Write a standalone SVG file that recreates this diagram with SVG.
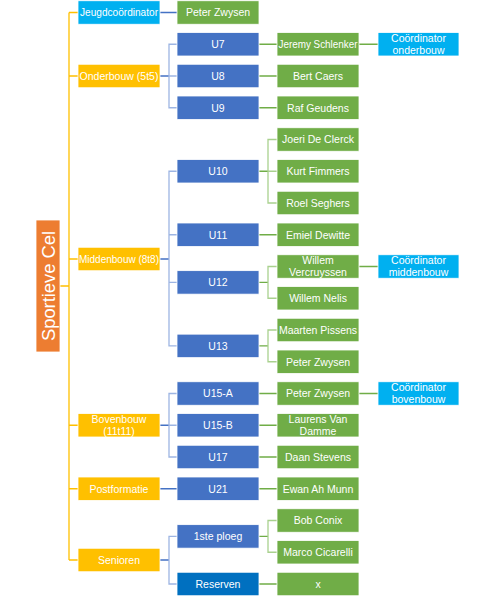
<svg xmlns="http://www.w3.org/2000/svg" width="494" height="597" viewBox="0 0 494 597">
<style>
text{font-family:"Liberation Sans",Arial,sans-serif;font-size:10.5px;fill:#fff;text-anchor:middle}
.big{font-size:18px}
rect{stroke:#fff;stroke-width:0.8}
.cel{fill:#ED7D31}
.or{fill:#FFC000}
.bl{fill:#4472C4}
.db{fill:#0070C0}
.gr{fill:#70AD47}
.cy{fill:#00B0F0}
.c path{fill:none;stroke-width:1.3}
.co{stroke:#FFC000}
.cb{stroke:#4472C4}
.cbl{stroke:#9DB5E3}
.cg{stroke:#70AD47}
.cgl{stroke:#A9D18E}
</style>
<g id="connectors" class="c">
<path class="co" d="M60,286H69M69,12.5V560M69,12.5H78M69,76H78M69,259H78M69,425.25H78M69,488.75H78M69,560H78"/>
<path class="cb" d="M160,12.5H177M160,76H169M160,259H169M160,425.25H169M160,488.75H177M160,560H169"/>
<path class="cbl" d="M177,44.25H169V107.75H177M169,76H177M177,171.25H169V345.9H177M169,234.75H177M169,282.4H177M177,393.5H169V457H177M169,425.25H177M177,536.4H169V584H177"/>
<path class="cg" d="M259,44.25H277M259,76H277M259,107.75H277M259,171.25H268M259,234.75H277M259,282.4H268M259,345.9H268M259,393.5H277M259,425.25H277M259,457H277M259,488.75H277M259,536.4H268M259,584H277M359,44.25H378M359,266.5H378M359,393.5H378"/>
<path class="cgl" d="M277,139.5H268V203H277M268,171.25H277M277,266.5H268V298.25H277M277,330H268V361.75H277M277,520.5H268V552.25H277"/>
</g>
<g id="sportieve-cel"><rect class="cel" x="36" y="220" width="24" height="132"/><text class="big" transform="translate(54.5,286) rotate(-90)" textLength="110" lengthAdjust="spacingAndGlyphs">Sportieve Cel</text></g>
<g id="jeugdcoordinator"><rect class="cy" x="78" y="0.75" width="82" height="23.5"/><text x="119" y="16.3" textLength="78" lengthAdjust="spacingAndGlyphs">Jeugdcoördinator</text></g>
<g id="peter-zwysen-1"><rect class="gr" x="177" y="0.75" width="82" height="23.5"/><text x="218" y="16.3">Peter Zwysen</text></g>
<g id="onderbouw"><rect class="or" x="78" y="64.25" width="82" height="23.5"/><text x="119" y="79.8">Onderbouw (5t5)</text></g>
<g id="u7"><rect class="bl" x="177" y="32.5" width="82" height="23.5"/><text x="218" y="48">U7</text></g>
<g id="u8"><rect class="bl" x="177" y="64.25" width="82" height="23.5"/><text x="218" y="79.8">U8</text></g>
<g id="u9"><rect class="bl" x="177" y="96" width="82" height="23.5"/><text x="218" y="111.5">U9</text></g>
<g id="jeremy"><rect class="gr" x="277" y="32.5" width="82" height="23.5"/><text x="318" y="48" textLength="79" lengthAdjust="spacingAndGlyphs">Jeremy Schlenker</text></g>
<g id="bert"><rect class="gr" x="277" y="64.25" width="82" height="23.5"/><text x="318" y="79.8">Bert Caers</text></g>
<g id="raf"><rect class="gr" x="277" y="96" width="82" height="23.5"/><text x="318" y="111.5">Raf Geudens</text></g>
<g id="coord-onderbouw"><rect class="cy" x="378" y="32.5" width="81" height="23.5"/><text x="418.5" y="42">Coördinator</text><text x="418.5" y="54">onderbouw</text></g>
<g id="middenbouw"><rect class="or" x="78" y="247.25" width="82" height="23.5"/><text x="119" y="262.8" textLength="80" lengthAdjust="spacingAndGlyphs">Middenbouw (8t8)</text></g>
<g id="u10"><rect class="bl" x="177" y="159.5" width="82" height="23.5"/><text x="218" y="175">U10</text></g>
<g id="u11"><rect class="bl" x="177" y="223" width="82" height="23.5"/><text x="218" y="238.5">U11</text></g>
<g id="u12"><rect class="bl" x="177" y="270.65" width="82" height="23.5"/><text x="218" y="286.2">U12</text></g>
<g id="u13"><rect class="bl" x="177" y="334.15" width="82" height="23.5"/><text x="218" y="349.7">U13</text></g>
<g id="joeri"><rect class="gr" x="277" y="127.75" width="82" height="23.5"/><text x="318" y="143.3">Joeri De Clerck</text></g>
<g id="kurt"><rect class="gr" x="277" y="159.5" width="82" height="23.5"/><text x="318" y="175">Kurt Fimmers</text></g>
<g id="roel"><rect class="gr" x="277" y="191.25" width="82" height="23.5"/><text x="318" y="206.8">Roel Seghers</text></g>
<g id="emiel"><rect class="gr" x="277" y="223" width="82" height="23.5"/><text x="318" y="238.5">Emiel Dewitte</text></g>
<g id="willem-v"><rect class="gr" x="277" y="254.75" width="82" height="23.5"/><text x="318" y="264.3">Willem</text><text x="318" y="276.3">Vercruyssen</text></g>
<g id="willem-n"><rect class="gr" x="277" y="286.5" width="82" height="23.5"/><text x="318" y="302">Willem Nelis</text></g>
<g id="maarten"><rect class="gr" x="277" y="318.25" width="82" height="23.5"/><text x="318" y="333.8">Maarten Pissens</text></g>
<g id="peter-zwysen-2"><rect class="gr" x="277" y="350" width="82" height="23.5"/><text x="318" y="365.5">Peter Zwysen</text></g>
<g id="coord-middenbouw"><rect class="cy" x="378" y="254.75" width="81" height="23.5"/><text x="418.5" y="264.3">Coördinator</text><text x="418.5" y="276.3">middenbouw</text></g>
<g id="bovenbouw"><rect class="or" x="78" y="413.5" width="82" height="23.5"/><text x="119" y="423">Bovenbouw</text><text x="119" y="435">(11t11)</text></g>
<g id="u15a"><rect class="bl" x="177" y="381.75" width="82" height="23.5"/><text x="218" y="397.3">U15-A</text></g>
<g id="u15b"><rect class="bl" x="177" y="413.5" width="82" height="23.5"/><text x="218" y="429">U15-B</text></g>
<g id="u17"><rect class="bl" x="177" y="445.25" width="82" height="23.5"/><text x="218" y="460.8">U17</text></g>
<g id="peter-zwysen-3"><rect class="gr" x="277" y="381.75" width="82" height="23.5"/><text x="318" y="397.3">Peter Zwysen</text></g>
<g id="laurens"><rect class="gr" x="277" y="413.5" width="82" height="23.5"/><text x="318" y="423">Laurens Van</text><text x="318" y="435">Damme</text></g>
<g id="daan"><rect class="gr" x="277" y="445.25" width="82" height="23.5"/><text x="318" y="460.8">Daan Stevens</text></g>
<g id="coord-bovenbouw"><rect class="cy" x="378" y="381.75" width="81" height="23.5"/><text x="418.5" y="391.3">Coördinator</text><text x="418.5" y="403.3">bovenbouw</text></g>
<g id="postformatie"><rect class="or" x="78" y="477" width="82" height="23.5"/><text x="119" y="492.5">Postformatie</text></g>
<g id="u21"><rect class="bl" x="177" y="477" width="82" height="23.5"/><text x="218" y="492.5">U21</text></g>
<g id="ewan"><rect class="gr" x="277" y="477" width="82" height="23.5"/><text x="318" y="492.5">Ewan Ah Munn</text></g>
<g id="senioren"><rect class="or" x="78" y="548.25" width="82" height="23.5"/><text x="119" y="563.8">Senioren</text></g>
<g id="eerste-ploeg"><rect class="bl" x="177" y="524.65" width="82" height="23.5"/><text x="218" y="540.2">1ste ploeg</text></g>
<g id="reserven"><rect class="db" x="177" y="572.25" width="82" height="23.5"/><text x="218" y="587.8">Reserven</text></g>
<g id="bob"><rect class="gr" x="277" y="508.75" width="82" height="23.5"/><text x="318" y="524.3">Bob Conix</text></g>
<g id="marco"><rect class="gr" x="277" y="540.5" width="82" height="23.5"/><text x="318" y="556">Marco Cicarelli</text></g>
<g id="x"><rect class="gr" x="277" y="572.25" width="82" height="23.5"/><text x="318" y="587.8">x</text></g>
</svg>
